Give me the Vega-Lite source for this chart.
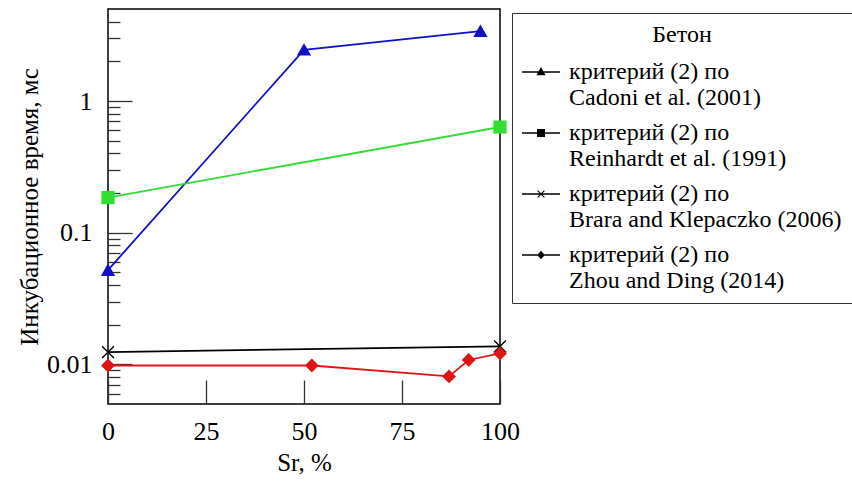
{
  "$schema": "https://vega.github.io/schema/vega-lite/v6.json",
  "width": 392,
  "height": 395,
  "autosize": {"type": "none"},
  "padding": {"left": 108, "top": 9, "right": 352, "bottom": 78},
  "background": "white",
  "config": {
    "view": {"stroke": "black", "strokeWidth": 1.5},
    "font": "Times New Roman",
    "axis": {
      "labelFont": "Times New Roman",
      "titleFont": "Times New Roman",
      "labelColor": "black",
      "titleColor": "black",
      "titleFontWeight": "normal",
      "domain": false,
      "grid": false,
      "tickColor": "#333333",
      "tickWidth": 1.3
    },
    "legend": {
      "labelFont": "Times New Roman",
      "titleFont": "Times New Roman"
    }
  },
  "data": {
    "values": [
      {"s": "критерий (2) по|Cadoni et al. (2001)", "sr": 0, "t": 0.052},
      {"s": "критерий (2) по|Cadoni et al. (2001)", "sr": 50, "t": 2.45},
      {"s": "критерий (2) по|Cadoni et al. (2001)", "sr": 95, "t": 3.4},
      {"s": "критерий (2) по|Reinhardt et al. (1991)", "sr": 0, "t": 0.185},
      {"s": "критерий (2) по|Reinhardt et al. (1991)", "sr": 100, "t": 0.635},
      {"s": "критерий (2) по|Brara and Klepaczko (2006)", "sr": 0, "t": 0.0124},
      {"s": "критерий (2) по|Brara and Klepaczko (2006)", "sr": 100, "t": 0.0137},
      {"s": "критерий (2) по|Zhou and Ding (2014)", "sr": 0, "t": 0.0098},
      {"s": "критерий (2) по|Zhou and Ding (2014)", "sr": 52, "t": 0.0098},
      {"s": "критерий (2) по|Zhou and Ding (2014)", "sr": 87, "t": 0.0081},
      {"s": "критерий (2) по|Zhou and Ding (2014)", "sr": 92, "t": 0.0108},
      {"s": "критерий (2) по|Zhou and Ding (2014)", "sr": 100, "t": 0.0121}
    ]
  },
  "encoding": {
    "x": {
      "field": "sr",
      "type": "quantitative",
      "scale": {"domain": [0, 100], "nice": false, "zero": false},
      "axis": {
        "values": [0, 25, 50, 75, 100],
        "title": "Sr, %",
        "titleFontSize": 25,
        "titlePadding": 6,
        "labelFontSize": 26,
        "tickSize": -24,
        "labelPadding": 38,
        "labelFlush": false,
        "labelOverlap": false
      }
    },
    "y": {
      "field": "t",
      "type": "quantitative",
      "scale": {"type": "log", "domain": [0.005, 5], "nice": false},
      "axis": {
        "values": [0.006, 0.007, 0.008, 0.009, 0.01, 0.02, 0.03, 0.04, 0.05, 0.06, 0.07, 0.08, 0.09, 0.1, 0.2, 0.3, 0.4, 0.5, 0.6, 0.7, 0.8, 0.9, 1, 2, 3, 4],
        "format": "~g",
        "labelExpr": "datum.value == 0.01 || datum.value == 0.1 || datum.value == 1 ? datum.label : ''",
        "tickSize": {"condition": {"test": "datum.value == 0.01 || datum.value == 0.1 || datum.value == 1", "value": -24}, "value": -12},
        "labelPadding": 40,
        "labelFontSize": 26,
        "title": "Инкубационное время, мс",
        "titleFontSize": 25,
        "titlePadding": 4,
        "labelOverlap": false,
        "labelFlush": false,
        "labelBound": false
      }
    }
  },
  "layer": [
    {
      "mark": {"type": "line", "strokeWidth": 1.8, "clip": false},
      "encoding": {
        "stroke": {
          "field": "s",
          "type": "nominal",
          "scale": {
            "domain": ["критерий (2) по|Cadoni et al. (2001)", "критерий (2) по|Reinhardt et al. (1991)", "критерий (2) по|Brara and Klepaczko (2006)", "критерий (2) по|Zhou and Ding (2014)"],
            "range": ["#1010c8", "#33dd33", "#000000", "#dd1515"]
          },
          "legend": null
        }
      }
    },
    {
      "mark": {"type": "point", "filled": true, "opacity": 1, "size": 140, "strokeWidth": 1.4, "clip": false},
      "encoding": {
        "fill": {
          "field": "s",
          "type": "nominal",
          "scale": {
            "domain": ["критерий (2) по|Cadoni et al. (2001)", "критерий (2) по|Reinhardt et al. (1991)", "критерий (2) по|Brara and Klepaczko (2006)", "критерий (2) по|Zhou and Ding (2014)"],
            "range": ["#1010c8", "#33dd33", "#000000", "#dd1515"]
          },
          "legend": null
        },
        "stroke": {"field": "s", "type": "nominal", "legend": null},
        "shape": {
          "field": "s",
          "type": "nominal",
          "scale": {
            "domain": ["критерий (2) по|Cadoni et al. (2001)", "критерий (2) по|Reinhardt et al. (1991)", "критерий (2) по|Brara and Klepaczko (2006)", "критерий (2) по|Zhou and Ding (2014)"],
            "range": ["triangle-up", "square", "M-1,-1L1,1M-1,1L1,-1", "diamond"]
          },
          "legend": null
        }
      }
    },
    {
      "mark": {"type": "point", "filled": true, "opacity": 0},
      "encoding": {
        "fill": {"field": "s", "type": "nominal", "legend": null},
        "stroke": {"field": "s", "type": "nominal", "legend": null},
        "shape": {
          "field": "s",
          "type": "nominal",
          "scale": {
            "domain": ["критерий (2) по|Cadoni et al. (2001)", "критерий (2) по|Reinhardt et al. (1991)", "критерий (2) по|Brara and Klepaczko (2006)", "критерий (2) по|Zhou and Ding (2014)"],
            "range": [
              "M-1,-0.045H1V0.045H-1ZM0,-0.26L0.24,0.17L-0.24,0.17Z",
              "M-1,-0.045H1V0.045H-1ZM-0.21,-0.21H0.21V0.21H-0.21Z",
              "M-1,-0.045H1V0.045H-1ZM-0.2,-0.16L-0.16,-0.2L0,-0.04L0.16,-0.2L0.2,-0.16L0.04,0L0.2,0.16L0.16,0.2L0,0.04L-0.16,0.2L-0.2,0.16L-0.04,0Z",
              "M-1,-0.045H1V0.045H-1ZM0,-0.22L0.2,0L0,0.22L-0.2,0Z"
            ]
          },
          "legend": {
            "orient": "none",
            "legendX": 404,
            "legendY": 4,
            "title": "Бетон",
            "titleFont": "Times New Roman",
            "titleFontSize": 24,
            "titleFontWeight": "normal",
            "titleColor": "black",
            "titleAnchor": "middle",
            "titlePadding": 6,
            "labelFont": "Times New Roman",
            "labelFontSize": 24,
            "labelColor": "black",
            "labelLimit": 600,
            "labelOffset": 9,
            "labelExpr": "split(datum.label, '|')",
            "symbolSize": 1444,
            "symbolStrokeWidth": 0,
            "symbolOpacity": 1,
            "strokeColor": "#333333",
            "fillColor": "white",
            "padding": 10,
            "rowPadding": 4
          }
        }
      }
    }
  ],
  "resolve": {"scale": {"shape": "independent"}}
}
